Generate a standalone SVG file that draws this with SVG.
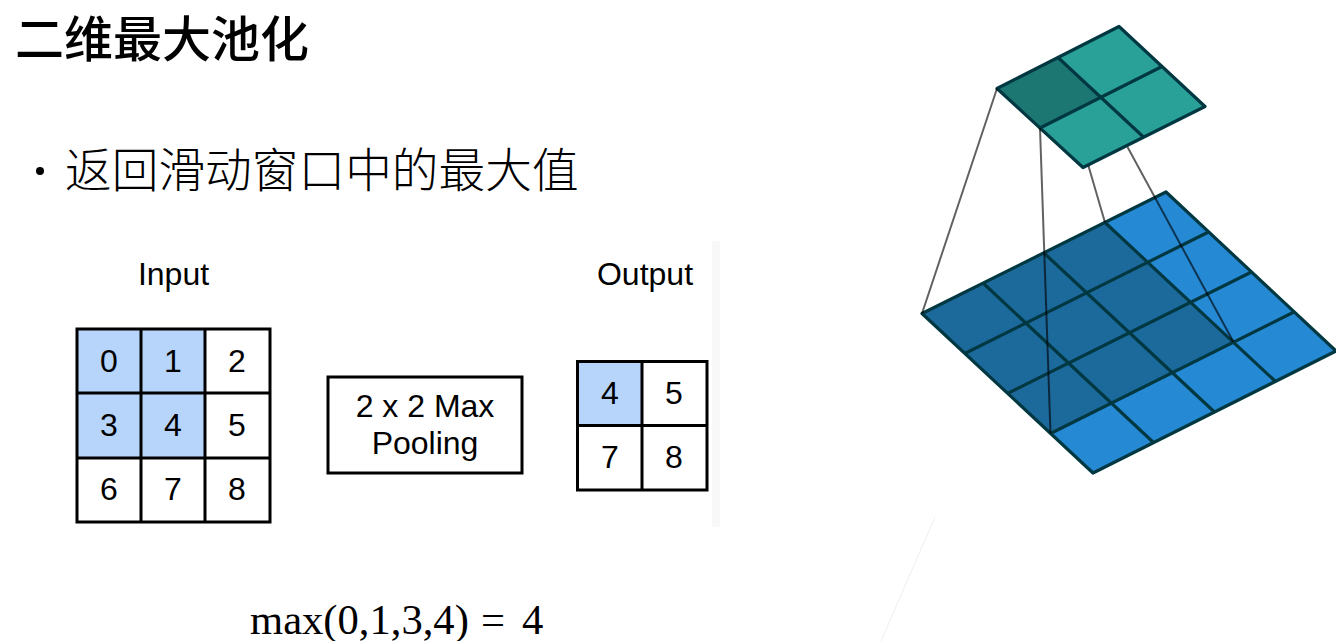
<svg xmlns="http://www.w3.org/2000/svg" width="1336" height="641" viewBox="0 0 1336 641">
<style>
.t{font-family:"Liberation Sans",Arial,sans-serif;font-size:32px;fill:#000;text-anchor:middle}
.box{fill:#fff;stroke:#000;stroke-width:3}
.hl{fill:#b7d5fb}
.g{stroke:#000;stroke-width:3;fill:none}
.p{stroke:#053843;stroke-width:3.200;fill:none;stroke-linejoin:round}
.c{stroke:#000;stroke-opacity:.62;stroke-width:2;fill:none}
</style>
<defs><filter id="soft" x="-5%" y="-5%" width="110%" height="110%"><feGaussianBlur stdDeviation="0.45"/></filter></defs>
<rect width="1336" height="641" fill="#fff"/>
<rect x="712" y="241" width="8" height="286" fill="#f8f8f8"/>
<line x1="935" y1="517" x2="881" y2="641" stroke="#eee" stroke-width="1"/>
<g id="title"><text x="15" y="57" font-family="'Noto Sans CJK SC',sans-serif" font-size="49" font-weight="500">二维最大池化</text></g>
<g id="bullet"><circle cx="40" cy="171" r="4" fill="#000"/><text x="65" y="187" font-family="'Noto Sans CJK SC',sans-serif" font-size="46.700" font-weight="300">返回滑动窗口中的最大值</text></g>
<g id="input">
<text class="t" x="173.500" y="285">Input</text>
<rect class="hl" x="77" y="329" width="128" height="129"/>
<rect x="77" y="329" width="193" height="193" class="g"/>
<path class="g" d="M141 329V522M205 329V522M77 393H270M77 458H270"/>
<text class="t" x="109" y="372">0</text><text class="t" x="173" y="372">1</text><text class="t" x="237" y="372">2</text>
<text class="t" x="109" y="436">3</text><text class="t" x="173" y="436">4</text><text class="t" x="237" y="436">5</text>
<text class="t" x="109" y="500">6</text><text class="t" x="173" y="500">7</text><text class="t" x="237" y="500">8</text>
</g>
<g id="pool">
<rect class="box" x="328" y="377" width="194" height="96"/>
<text class="t" x="425" y="417">2 x 2 Max</text>
<text class="t" x="425" y="454">Pooling</text>
</g>
<g id="output">
<text class="t" x="645" y="285">Output</text>
<rect class="hl" x="577.500" y="361.500" width="65" height="64"/>
<rect x="577.500" y="361.500" width="129.500" height="128.500" class="g"/>
<path class="g" d="M642 361V490M577 425.500H707"/>
<text class="t" x="610" y="404">4</text><text class="t" x="674" y="404">5</text>
<text class="t" x="610" y="468">7</text><text class="t" x="674" y="468">8</text>
</g>
<g id="formula"><text y="634" font-family="'Liberation Serif','Times New Roman',serif" font-size="42.600"><tspan x="250">max(0,1,3,4)</tspan><tspan x="481">=</tspan><tspan x="522">4</tspan></text></g>
<g filter="url(#soft)">
<g id="input-plane">
<path d="M922 313.500L1166 192L1336 351L1093 473Z" fill="#2589d4"/>
<path d="M922 313.500L1105 222.500L1233.500 342L1050.500 433.500Z" fill="#1b6a9c"/>
<path class="p" d="M922 313.500L1166 192L1336 351L1093 473Z"/>
<path class="p" d="M983 283L1154 443M1044 253L1215 412.500M1105 222.500L1276 382M964.800 353.500L1208.500 232M1007.500 393.500L1251.500 272M1050.500 433.500L1294 312"/>
</g>
<g id="output-plane">
<path d="M997 88.500L1119 26.500L1205 106.500L1083 167.500Z" fill="#2aa198"/>
<path d="M997 88.500L1058 57.500L1101 97.500L1040 128Z" fill="#1b7772"/>
<path class="p" d="M997 88.500L1119 26.500L1205 106.500L1083 167.500Z"/>
<path class="p" d="M1058 57.500L1144 137.500M1040 128L1162 66.500"/>
</g>
<g id="connectors">
<path class="c" d="M997 88.500L922 313.500M1040 128L1050.500 433.500M1088.500 166L1105 222.500M1127.500 147L1233.500 342"/>
</g>
</g>
</svg>
